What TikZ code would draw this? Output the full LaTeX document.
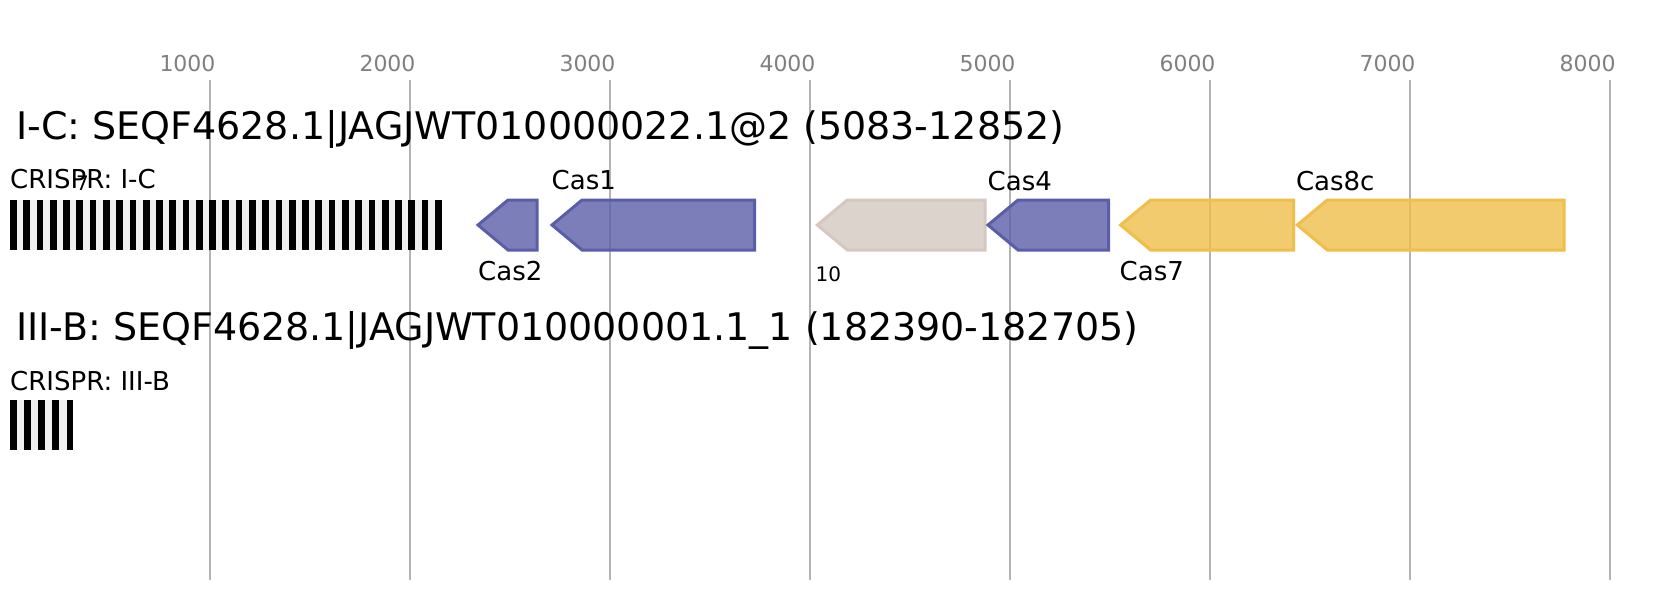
\documentclass[tikz,border=0pt]{standalone}
\usepackage{fontspec}
\setmainfont{DejaVu Sans}
\definecolor{geneblue}{RGB}{90,94,168}
\definecolor{genegray}{RGB}{212,200,192}
\definecolor{geneyellow}{RGB}{239,190,75}
\definecolor{gridgray}{RGB}{180,180,180}
\definecolor{ticktext}{RGB}{128,128,128}
\definecolor{spacergray}{RGB}{240,240,240}
\newcommand{\leftgene}[4]{%
  \draw[#4] (#1,#3+25) -- (#1+30,#3) -- (#2,#3) -- (#2,#3+50) -- (#1+30,#3+50) -- cycle;}
\tikzset{
  gridline/.style={draw=gridgray, line width=2pt},
  ticklbl/.style={text=ticktext, inner sep=0pt, anchor=base, font=\fontsize{22}{24}\selectfont},
  titlelbl/.style={inner sep=0pt, anchor=base west, font=\fontsize{38}{40}\selectfont},
  genelbl/.style={inner sep=0pt, anchor=base west, font=\fontsize{26}{28}\selectfont},
  smalllbl/.style={inner sep=0pt, anchor=base west, font=\fontsize{20}{22}\selectfont},
  bluegene/.style={draw=geneblue, fill=geneblue, fill opacity=0.8, line width=3pt, line join=miter},
  graygene/.style={draw=genegray, fill=genegray, fill opacity=0.8, line width=3pt, line join=miter},
  yellowgene/.style={draw=geneyellow, fill=geneyellow, fill opacity=0.8, line width=3pt, line join=miter},
  spacerbg/.style={fill=spacergray},
  repeatbar/.style={fill=black}
}
\begin{document}
\begin{tikzpicture}[x=1pt, y=-1pt]
\useasboundingbox (0,0) rectangle (1654,600);
\fill[white] (0,0) rectangle (1654,600);
% axis grid and tick labels
\foreach \i in {1,...,8} {
  \draw[gridline] (200*\i+10,80) -- (200*\i+10,580);
  \node[ticklbl] (tick\i) at (200*\i-12.5,71.7) {\i000};
}
% ---- I-C locus ----
\node[titlelbl] (titleIC) at (16,139.5) {I-C: SEQF4628.1|JAGJWT010000022.1@2 (5083-12852)};
\node[genelbl] (crisprIC) at (10,188.5) {CRISPR: I-C};
\node[smalllbl] (seven) at (75.8,190) {7};
\fill[spacerbg] (10,200) rectangle (440.7,250);
\foreach \k in {0,...,32} {
  \fill[repeatbar] (10+13.28*\k,200) rectangle ++(6.7,50);
}
\leftgene{478}{537}{200}{bluegene}
\leftgene{552}{754.5}{200}{bluegene}
\leftgene{817.3}{985.2}{200}{graygene}
\leftgene{988}{1108.5}{200}{bluegene}
\leftgene{1120.6}{1293.5}{200}{yellowgene}
\leftgene{1297.3}{1564.2}{200}{yellowgene}
\node[genelbl] (cas2) at (478,280) {Cas2};
\node[genelbl] (cas1) at (551.5,189.5) {Cas1};
\node[smalllbl] (ten) at (815.5,281) {10};
\node[genelbl] (cas4) at (987.5,190) {Cas4};
\node[genelbl] (cas7) at (1119.5,280) {Cas7};
\node[genelbl] (cas8c) at (1295.8,190) {Cas8c};
% ---- III-B locus ----
\node[titlelbl] (titleIIIB) at (16,340) {III-B: SEQF4628.1|JAGJWT010000001.1\_1 (182390-182705)};
\node[genelbl] (crisprIIIB) at (10,390.5) {CRISPR: III-B};
\fill[spacerbg] (10,400) rectangle (73.3,450);
\foreach \k in {0,...,4} {
  \fill[repeatbar] (10+14.15*\k,400) rectangle ++(6.7,50);
}
\end{tikzpicture}
\end{document}
